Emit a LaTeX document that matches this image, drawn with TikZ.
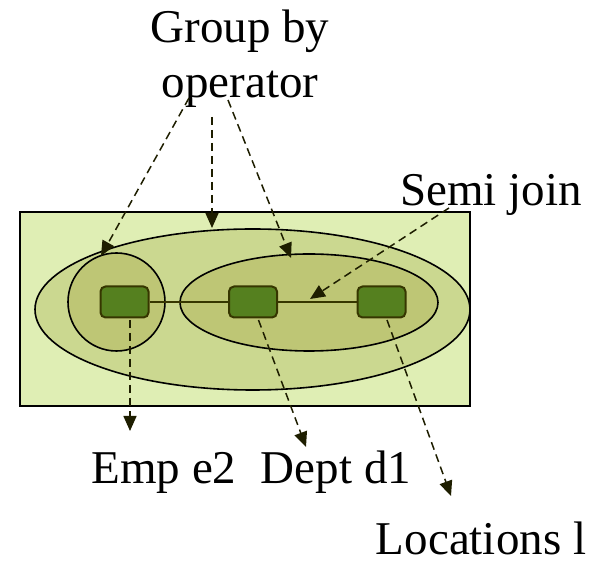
\documentclass[tikz,border=0pt]{standalone}
\usepackage{fontspec}
\setmainfont{Liberation Serif}
\usetikzlibrary{arrows.meta,shapes.geometric}
\definecolor{paneFill}{HTML}{DFEEB4}
\definecolor{outerFill}{HTML}{CBD890}
\definecolor{innerFill}{HTML}{BEC675}
\definecolor{relFill}{HTML}{55801F}
\definecolor{relEdge}{HTML}{363600}
\definecolor{arrowInk}{HTML}{1E1E00}
\tikzset{
  label text/.style={font=\fontsize{47}{55}\selectfont, inner sep=0pt},
  relbox/.style={draw=relEdge, line width=2pt, fill=relFill, rounded corners=5pt,
                 minimum width=48pt, minimum height=31pt, inner sep=0pt},
  region/.style={draw=black, line width=1.6pt, ellipse, inner sep=0pt},
  ptr/.style={draw=arrowInk, line width=1.5pt, dash pattern=on 8pt off 5pt,
              -{Triangle[length=15pt,width=13pt]}},
  link/.style={draw=relEdge, line width=1.6pt}
}
\begin{document}
\begin{tikzpicture}[x=1pt,y=1pt]
  \useasboundingbox (0,0) rectangle (589,567);
  % query block background
  \node[draw=black, line width=1.8pt, fill=paneFill, minimum width=450pt,
        minimum height=194pt, inner sep=0pt] (pane) at (245,258) {};
  % nested groupings
  \node[region, fill=outerFill, minimum width=435pt, minimum height=161pt] (outer) at (252.5,257.5) {};
  \node[region, fill=innerFill, minimum width=97pt, minimum height=98pt] (left) at (116.5,265) {};
  \node[region, fill=innerFill, minimum width=258pt, minimum height=97pt] (right) at (309,264.5) {};
  % relations
  \node[relbox] (emp) at (124.5,265) {};
  \node[relbox] (dept) at (253,265) {};
  \node[relbox] (loc) at (381.5,265) {};
  \draw[link] (emp.east) -- (dept.west);
  \draw[link] (dept.east) -- (loc.west);
  % labels
  \node[label text, align=center, anchor=north] (grp) at (240,557) {Group by\\operator};
  \node[label text, anchor=base] (semi) at (491,361) {Semi join};
  \node[label text, anchor=base] (empl) at (164,83) {Emp e2};
  \node[label text, anchor=base] (deptl) at (336,83) {Dept d1};
  \node[label text, anchor=base] (locl) at (481,12) {Locations l};
  % connector end points
  \coordinate (g1) at (189,469);
  \coordinate (g2) at (212,450);
  \coordinate (g3) at (228,467);
  \coordinate (t1) at (101,311);
  \coordinate (t2) at (212,339);
  \coordinate (t3) at (291,309);
  \coordinate (s0) at (449,359);
  \coordinate (s1) at (310,268);
  \coordinate (e0) at (130,247);
  \coordinate (e1) at (130,136);
  \coordinate (d0) at (258.5,247);
  \coordinate (d1) at (306,120);
  \coordinate (l0) at (387,247);
  \coordinate (l1) at (451,71);
  % pointers
  \draw[ptr] (g1) -- (t1);
  \draw[ptr] (g2) -- (t2);
  \draw[ptr] (g3) -- (t3);
  \draw[ptr] (s0) -- (s1);
  \draw[ptr] (e0) -- (e1);
  \draw[ptr] (d0) -- (d1);
  \draw[ptr] (l0) -- (l1);
\end{tikzpicture}
\end{document}
